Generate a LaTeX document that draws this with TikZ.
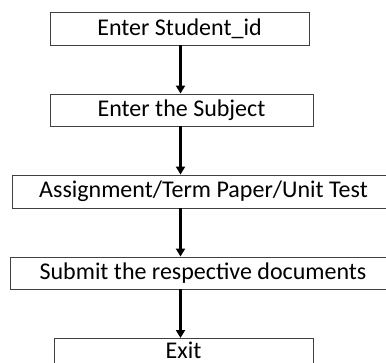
\documentclass[tikz,border=0pt]{standalone}
\usepackage{fontspec}
\setmainfont{Carlito}
\usetikzlibrary{arrows.meta}

\tikzset{
  boxline/.style={draw=black!75, line width=0.9pt},
  stepbox/.style={boxline, minimum height=33pt,
    inner sep=0pt, font=\fontsize{24}{28}\selectfont, text=black},
  flow/.style={line width=2.2pt, -{Triangle[width=9pt,length=8pt]}}
}

\begin{document}
\begin{tikzpicture}[x=1pt,y=1pt]

\useasboundingbox (0,0) rectangle (386,362);
\clip (0,0) rectangle (386,362);

% Boxes
\node[stepbox, minimum width=259pt] (student) at (179.5,333.5) {Enter Student\_id};
\node[stepbox, minimum width=263pt, minimum height=32pt] (subject) at (181.5,252) {Enter the Subject};
\node[stepbox, minimum width=383pt] (task) at (203.5,170.5) {Assignment/Term Paper/Unit Test};
\node[stepbox, minimum width=386pt, minimum height=32pt] (submit) at (203,89) {Submit the respective documents};

% Exit (box runs off the bottom)
\draw[boxline] (54,24) rectangle (313,-10);
\node[inner sep=0pt, font=\fontsize{24}{28}\selectfont, anchor=base] (exit) at (183.5,4) {Exit};
\coordinate (exittop) at (180.5,24);

% Arrows
\coordinate (spine) at (180.5,0);
\draw[flow] (student.south -| spine) -- (subject.north -| spine);
\draw[flow] (subject.south -| spine) -- (task.north -| spine);
\draw[flow] (task.south -| spine) -- (submit.north -| spine);
\draw[flow] (submit.south -| spine) -- (exittop);

\end{tikzpicture}
\end{document}
